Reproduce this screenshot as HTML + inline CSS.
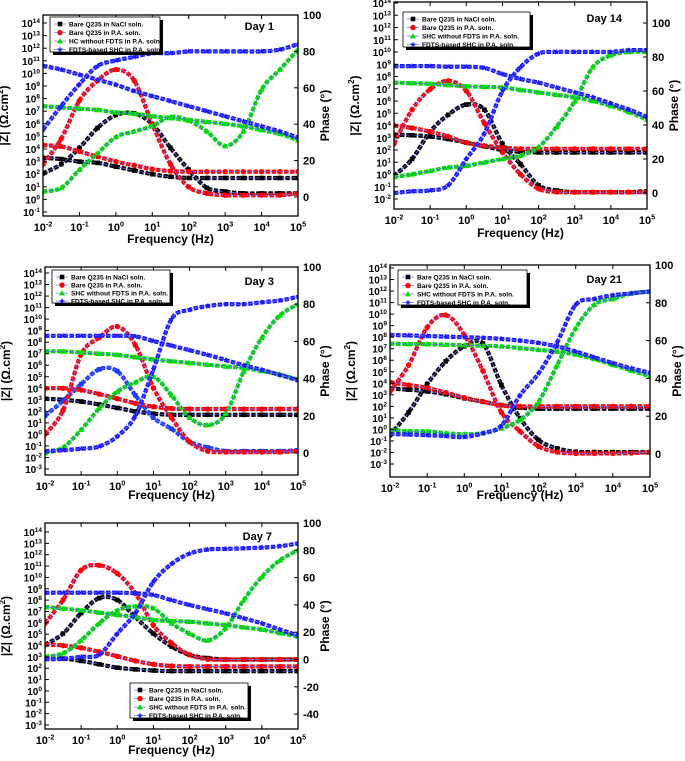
<!DOCTYPE html>
<html><head><meta charset="utf-8"><style>
html,body{margin:0;padding:0;background:#fff;}
svg{display:block;font-family:"Liberation Sans",Arial,sans-serif;}
</style></head><body>
<svg id="fig" width="685" height="761" viewBox="0 0 685 761" xmlns="http://www.w3.org/2000/svg"></svg>
<script>
// shared frequency grid (log10 Hz), half-decade
const freqExp = [-2,-1.5,-1,-0.5,0,0.5,1,1.5,2,2.5,3,3.5,4,4.5,5];
const seriesLabels1 = ["Bare Q235 in NaCl soln.","Bare Q235 in P.A. soln.","HC without FDTS in P.A. soln.","FDTS-based SHC in P.A. soln."];
const seriesLabels = ["Bare Q235 in NaCl soln.","Bare Q235 in P.A. soln.","SHC without FDTS in P.A. soln.","FDTS-based SHC in P.A. soln."];

// Day 1: log10|Z| and phase
const d1_zNaCl = [3.3,3.2,3.0,2.9,2.6,2.3,2.0,1.8,1.7,1.7,1.7,1.7,1.7,1.7,1.7];
const d1_zPA   = [4.3,4.2,3.8,3.4,3.0,2.7,2.4,2.25,2.2,2.2,2.2,2.2,2.2,2.2,2.2];
const d1_zHC   = [7.4,7.3,7.2,7.1,6.9,6.8,6.6,6.45,6.3,6.15,6.0,5.8,5.5,5.2,4.7];
const d1_zSHC  = [10.6,10.3,9.9,9.5,9.1,8.6,8.2,7.8,7.4,7.0,6.6,6.2,5.8,5.4,4.9];
const d1_pNaCl = [13,18,27,38,45,46,40,27,15,5,3,2,2,2,2];
const d1_pPA   = [18,32,53,64,70,64,40,18,5.5,2,1,1,1,1,2];
const d1_pHC   = [3,5,15,24,33,36,39,44,42,36,28,36,59,70,81];
const d1_pSHC  = [37,50,62,72,75,77,79,79,80,80,80,80,80,81,84];

// Day 14
const d14_zNaCl = [3.25,3.2,3.1,2.9,2.6,2.3,2.0,1.85,1.8,1.8,1.8,1.8,1.8,1.8,1.8];
const d14_zPA   = [4.0,3.8,3.5,3.1,2.6,2.35,2.2,2.1,2.1,2.1,2.1,2.1,2.1,2.1,2.1];
const d14_zHC   = [7.5,7.45,7.4,7.3,7.2,7.15,7.1,6.9,6.7,6.5,6.3,6.0,5.6,5.1,4.5];
const d14_zSHC  = [8.85,8.85,8.85,8.8,8.8,8.7,8.2,7.8,7.5,7.1,6.7,6.3,5.8,5.3,4.7];
const d14_pNaCl = [10,20,36,46,52,49,29,17,4.5,1.5,0.5,0.5,0.5,0.5,1];
const d14_pPA   = [29,49,61,66,60,41,24,11,2.5,0.6,0.5,0.5,0.5,0.5,0.5];
const d14_pHC   = [9.4,11,13,15,16,18,20,22,27,39,54,74,81,83,83];
const d14_pSHC  = [0,1,1.5,4.5,20,35,60,74,82,83,83,83,83,84,84];

// Day 3
const d3_zNaCl = [3.1,3.0,2.85,2.6,2.3,2.0,1.8,1.7,1.7,1.7,1.7,1.7,1.7,1.7,1.7];
const d3_zPA   = [4.0,4.0,3.85,3.5,3.1,2.7,2.4,2.25,2.2,2.2,2.2,2.2,2.2,2.2,2.2];
const d3_zHC   = [7.2,7.2,7.1,7.0,6.9,6.7,6.5,6.35,6.2,6.05,5.9,5.75,5.5,5.2,4.75];
const d3_zSHC  = [8.55,8.55,8.55,8.55,8.55,8.5,8.1,7.7,7.3,6.9,6.45,6.0,5.6,5.15,4.7];
const d3_pNaCl = [20,28,37,45,44,31,19,13,6,3,1,1,1,1,1.5];
const d3_pPA   = [10,23,53,62,68,58,35,19,6,1,0.5,0.5,0.5,0.5,1];
const d3_pHC   = [0,3,12.5,24,33,38,41,31,19,15,21,44,62,74,80];
const d3_pSHC  = [1,1.5,2.3,3.5,9,20,45,72,77,79,80,80,81,82,84];

// Day 21
const d21_zNaCl = [3.55,3.45,3.3,3.05,2.7,2.4,2.1,1.9,1.8,1.8,1.8,1.8,1.8,1.8,1.8];
const d21_zPA   = [4.1,3.85,3.6,3.2,2.75,2.4,2.1,2.0,2.0,2.0,2.0,2.0,2.0,2.0,2.0];
const d21_zHC   = [7.45,7.4,7.4,7.35,7.3,7.25,7.2,7.05,6.9,6.75,6.5,6.1,5.6,5.1,4.6];
const d21_zSHC  = [8.2,8.15,8.1,8.05,8.0,7.95,7.85,7.7,7.5,7.2,6.75,6.25,5.75,5.3,4.9];
const d21_pNaCl = [10,22,37,49,57,58.5,36.5,19,7.4,3,1.2,1,1,1,1];
const d21_pPA   = [33,47,67,73.5,63,44,22,12,4,1,0.3,0.3,0.3,0.5,1];
const d21_pHC   = [12.7,12,12,11,10.5,11,13.6,18,27.7,47,66.5,79,82,85,86];
const d21_pSHC  = [10.6,10.3,10,9.5,9,11,15,31,42.7,59,79,82,84,85,86];

// Day 7
const d7_zNaCl = [2.9,2.85,2.65,2.35,2.05,1.9,1.8,1.75,1.75,1.75,1.75,1.75,1.75,1.75,1.75];
const d7_zPA   = [4.1,4.0,3.8,3.45,3.05,2.65,2.35,2.2,2.15,2.15,2.15,2.15,2.15,2.15,2.15];
const d7_zHC   = [7.4,7.25,7.1,6.9,6.7,6.5,6.25,6.15,6.1,5.95,5.8,5.6,5.4,5.1,4.8];
const d7_zSHC  = [8.65,8.65,8.65,8.65,8.65,8.6,8.45,8.0,7.57,7.2,6.83,6.4,5.95,5.4,4.9];
const d7_pNaCl = [10.7,19,34,45,43.6,31,19,9.5,3.4,1,0,0,0,0,0];
const d7_pPA   = [26.5,43.6,65.5,69,63,48.5,25,12,3.4,0.2,0,0,0,0,0];
const d7_pHC   = [2,4.6,14,26.5,36,39,37.5,26.5,19,14,23,43.6,60.6,72.7,80];
const d7_pSHC  = [0.2,0.5,2,3.4,19,34,57,70,77.6,80.6,81,81.5,82,83,85];

const panels = [
 {name:"day-1",title:"Day 1",labels:seriesLabels1,x0:43,x1:298,y0:15,y1:216,zTop:14,zTopY:23,zMin:-1,zMinY:212,p100:15,p0:197,pTicks:[0,20,40,60,80,100],
  leg:[50,17,110,35],titleX:274,titleY:30,xlabY:243,
  z:[d1_zNaCl,d1_zPA,d1_zHC,d1_zSHC],p:[d1_pNaCl,d1_pPA,d1_pHC,d1_pSHC]},
 {name:"day-14",title:"Day 14",labels:seriesLabels,x0:394,x1:647,y0:2,y1:209,zTop:14,zTopY:3,zMin:-2,zMinY:199,p100:23,p0:193,pTicks:[0,20,40,60,80,100],
  leg:[403,12,127,35],titleX:622,titleY:22,xlabY:237,
  z:[d14_zNaCl,d14_zPA,d14_zHC,d14_zSHC],p:[d14_pNaCl,d14_pPA,d14_pHC,d14_pSHC]},
 {name:"day-3",title:"Day 3",labels:seriesLabels,x0:45,x1:298,y0:267,y1:475,zTop:14,zTopY:273,zMin:-3,zMinY:469,p100:267,p0:453,pTicks:[0,20,40,60,80,100],
  leg:[52,270,118,33],titleX:274,titleY:285,xlabY:499,pNaClColor:"#1a3cff",
  z:[d3_zNaCl,d3_zPA,d3_zHC,d3_zSHC],p:[d3_pNaCl,d3_pPA,d3_pHC,d3_pSHC]},
 {name:"day-21",title:"Day 21",labels:seriesLabels,x0:390,x1:650,y0:265,y1:477,zTop:14,zTopY:268,zMin:-3,zMinY:464,p100:265,p0:454,pTicks:[0,20,40,60,80,100],
  leg:[398,270,129,35],titleX:622,titleY:283,xlabY:499,
  z:[d21_zNaCl,d21_zPA,d21_zHC,d21_zSHC],p:[d21_pNaCl,d21_pPA,d21_pHC,d21_pSHC]},
 {name:"day-7",title:"Day 7",labels:seriesLabels,x0:45,x1:298,y0:523,y1:729,zTop:14,zTopY:532,zMin:-3,zMinY:725,p100:523,p0:659.5,pTicks:[-40,-20,0,20,40,60,80,100],
  leg:[130,683,118,35],titleX:272,titleY:540,xlabY:754,
  z:[d7_zNaCl,d7_zPA,d7_zHC,d7_zSHC],p:[d7_pNaCl,d7_pPA,d7_pHC,d7_pSHC]}
];
const colors=["#000000","#ff0000","#00dd00","#1a1aff"];
const markers=["square","circle","triangle","star"];
const NS="http://www.w3.org/2000/svg";
const svg=document.getElementById("fig");
function mk(tag,attrs,parent){const e=document.createElementNS(NS,tag);for(const k in attrs)e.setAttribute(k,attrs[k]);(parent||svg).appendChild(e);return e;}
function smoothPath(pts){
  let d="M"+pts[0][0].toFixed(1)+","+pts[0][1].toFixed(1);
  for(let i=0;i<pts.length-1;i++){
    const p0=pts[Math.max(i-1,0)],p1=pts[i],p2=pts[i+1],p3=pts[Math.min(i+2,pts.length-1)];
    const c1=[p1[0]+(p2[0]-p0[0])/6,p1[1]+(p2[1]-p0[1])/6];
    const c2=[p2[0]-(p3[0]-p1[0])/6,p2[1]-(p3[1]-p1[1])/6];
    d+=` C${c1[0].toFixed(1)},${c1[1].toFixed(1)} ${c2[0].toFixed(1)},${c2[1].toFixed(1)} ${p2[0].toFixed(1)},${p2[1].toFixed(1)}`;
  }
  return d;
}
function marker(g,type,cx,cy,color){
  let e;
  if(type==="square")e=mk("rect",{x:cx-2.3,y:cy-2.3,width:4.6,height:4.6,fill:color},g);
  else if(type==="circle")e=mk("circle",{cx:cx,cy:cy,r:2.7,fill:color},g);
  else if(type==="triangle")e=mk("polygon",{points:`${cx},${cy-3} ${cx-3},${cy+2.3} ${cx+3},${cy+2.3}`,fill:color},g);
  else{let pts=[];for(let i=0;i<10;i++){const r=i%2?1.3:3.2;const a=-Math.PI/2+i*Math.PI/5;pts.push((cx+r*Math.cos(a)).toFixed(1)+","+(cy+r*Math.sin(a)).toFixed(1));}
    e=mk("polygon",{points:pts.join(" "),fill:color},g);}
  
  
}
function pow10(g,x,y,exp,anchor,size){
  const t=mk("text",{x:x,y:y,"text-anchor":anchor,"font-size":size,"font-weight":"bold",fill:"#000"},g);
  t.appendChild(document.createTextNode("10"));
  const s=mk("tspan",{"font-size":size*0.65,dy:-size*0.4},t);s.textContent=String(exp);
  return t;
}
panels.forEach((P,pi)=>{
  const g=mk("g",{});
  
  
  const X=fe=>P.x0+(fe+2)/7*(P.x1-P.x0);
  const YL=v=>P.zTopY+(P.zTop-v)*(P.zMinY-P.zTopY)/(P.zTop-P.zMin);
  const YR=p=>P.p100+(100-p)*(P.p0-P.p100)/100;
  const cid="clip"+pi;
  const cp=mk("clipPath",{id:cid},g);mk("rect",{x:P.x0,y:P.y0,width:P.x1-P.x0,height:P.y1-P.y0},cp);
  const dg=mk("g",{"clip-path":`url(#${cid})`},g);
  
  
  for(let s=0;s<4;s++){
    [["z",P.z[s],YL],["p",P.p[s],YR]].forEach(([kind,arr,Y])=>{
      let col=colors[s];
      if(kind==="p"&&s===0&&P.pNaClColor)col=P.pNaClColor;
      const sg=mk("g",{},dg);
      
      
      const pts=arr.map((v,i)=>[X(freqExp[i]),Y(v)]);
      const d=smoothPath(pts);
      mk("path",{d:d,fill:"none",stroke:col,"stroke-width":4.2,"stroke-dasharray":"4.5 1.6","stroke-linejoin":"round"},sg);
      mk("path",{d:d,fill:"none",stroke:"#6a6aff","stroke-width":0.7},sg);
      arr.forEach((v,i)=>marker(sg,markers[s],X(freqExp[i]),Y(v),col));
    });
  }
  const fr=mk("rect",{x:P.x0,y:P.y0,width:P.x1-P.x0,height:P.y1-P.y0,fill:"none",stroke:"#000","stroke-width":1.3},g);
  
  for(let e=-2;e<=5;e++){
    const x=X(e);
    mk("line",{x1:x,x2:x,y1:P.y1,y2:P.y1-4,stroke:"#000"},g);
    mk("line",{x1:x,x2:x,y1:P.y0,y2:P.y0+4,stroke:"#000"},g);
    const t=pow10(g,x,P.y1+15,e,"middle",11);
    
  }
  for(let e=P.zMin;e<=P.zTop;e++){
    const y=YL(e);
    mk("line",{x1:P.x0,x2:P.x0+4,y1:y,y2:y,stroke:"#000"},g);
    const t=pow10(g,P.x0-3,y+4,e,"end",10);
    
  }
  P.pTicks.forEach(v=>{
    const y=YR(v);
    mk("line",{x1:P.x1,x2:P.x1-4,y1:y,y2:y,stroke:"#000"},g);
    const t=mk("text",{x:P.x1+5,y:y+4,"font-size":11,"font-weight":"bold"},g);t.textContent=v;
    
  });
  const cx=(P.x0+P.x1)/2;
  const xl=mk("text",{x:cx,y:P.xlabY,"text-anchor":"middle","font-size":12,"font-weight":"bold"},g);xl.textContent="Frequency (Hz)";
  
  const cy=(P.y0+P.y1)/2;
  const ylx=P.x0-35;
  const yl=mk("text",{x:ylx,y:cy,"text-anchor":"middle","font-size":12,"font-weight":"bold",transform:`rotate(-90 ${ylx} ${cy})`},g);
  yl.textContent="|Z| (Ω.cm";const sup=mk("tspan",{"font-size":8,dy:-5},yl);sup.textContent="2";const cl=mk("tspan",{dy:5},yl);cl.textContent=")";
  
  const yrx=P.x1+31;
  const yr=mk("text",{x:yrx,y:cy,"text-anchor":"middle","font-size":12,"font-weight":"bold",transform:`rotate(-90 ${yrx} ${cy})`},g);
  yr.textContent="Phase (°)";
  
  const tt=mk("text",{x:P.titleX,y:P.titleY,"text-anchor":"end","font-size":11,"font-weight":"bold"},g);tt.textContent=P.title;
  
  const [lx,ly,lw,lh]=P.leg;
  const lg=mk("g",{},g);
  
  mk("rect",{x:lx+3,y:ly+3,width:lw,height:lh,fill:"#000"},lg);
  mk("rect",{x:lx,y:ly,width:lw,height:lh,fill:"#fff",stroke:"#000","stroke-width":0.8},lg);
  for(let s=0;s<4;s++){
    const ey=ly+5+s*lh/4.1+2;
    const eg=mk("g",{},lg);
    
    mk("line",{x1:lx+4,x2:lx+16,y1:ey,y2:ey,stroke:"#6a6aff","stroke-width":0.7},eg);
    marker(eg,markers[s],lx+10,ey,colors[s]);
    const t=mk("text",{x:lx+19,y:ey+2.5,"font-size":6.6,"font-weight":"bold"},eg);t.textContent=P.labels[s];
  }
});
</script>
</body></html>
